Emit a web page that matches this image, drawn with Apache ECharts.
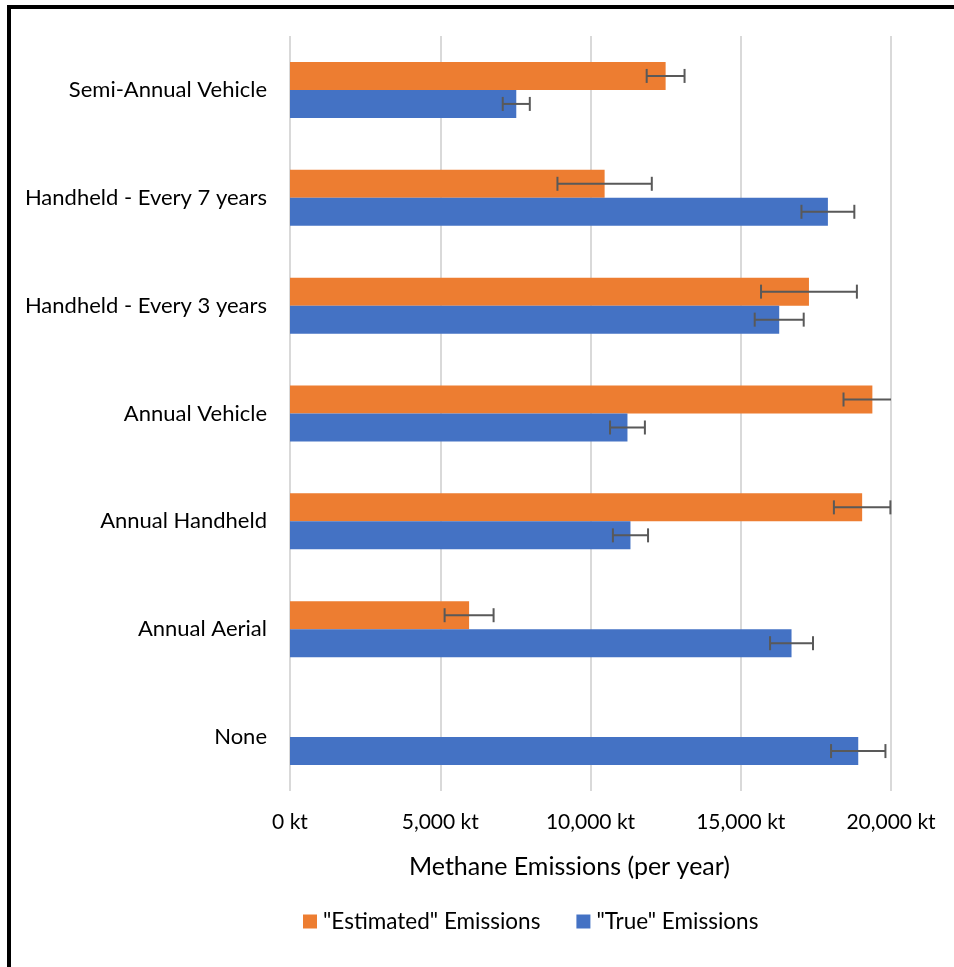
<!DOCTYPE html>
<html>
<head>
<meta charset="utf-8">
<script src="https://cdn.jsdelivr.net/npm/echarts@6/dist/echarts.min.js"></script>
<style>
html,body{margin:0;padding:0;background:#fff;}
#c{width:954px;height:967px;}
</style>
</head>
<body>
<div id="c"></div>
<script>
// Categories listed top to bottom (yAxis is inverted)
var categories = ['Semi-Annual Vehicle', 'Handheld - Every 7 years', 'Handheld - Every 3 years', 'Annual Vehicle', 'Annual Handheld', 'Annual Aerial', 'None'];
var estimated = [12500, 10470, 17270, 19380, 19040, 5960, null];
var estimatedErr = [630, 1570, 1595, 960, 940, 815, null];
var trueVals = [7530, 17900, 16280, 11230, 11330, 16690, 18910];
var trueErr = [450, 880, 815, 580, 585, 715, 905];
var xTicks = [0, 5000, 10000, 15000, 20000];
var seriesNames = ['"Estimated" Emissions', '"True" Emissions'];

var FONT = 'Lato';
var AXMAX = 20000;
var BARW = 28;

function errData(vals, errs) {
  return vals.map(function (v, i) {
    return v == null ? [i, null, null, null] : [i, v, v - errs[i], v + errs[i]];
  });
}

function errRender(offset) {
  return function (params, api) {
    var idx = api.value(0);
    var v = api.value(1);
    if (isNaN(v) || v === null) return null;
    var lo = api.value(2), hi = api.value(3);
    var clipped = hi > AXMAX;
    var hiC = Math.min(hi, AXMAX);
    var pLo = api.coord([lo, idx]);
    var pHi = api.coord([hiC, idx]);
    var y = pLo[1] + offset;
    var cap = 7;
    var st = { stroke: '#595959', lineWidth: 2 };
    var children = [
      { type: 'line', shape: { x1: pLo[0], y1: y, x2: pHi[0], y2: y }, style: st },
      { type: 'line', shape: { x1: pLo[0], y1: y - cap, x2: pLo[0], y2: y + cap }, style: st }
    ];
    if (!clipped) {
      children.push({ type: 'line', shape: { x1: pHi[0], y1: y - cap, x2: pHi[0], y2: y + cap }, style: st });
    }
    return { type: 'group', children: children };
  };
}

var chart = echarts.init(document.getElementById('c'), null, { renderer: 'canvas' });
chart.setOption({
  animation: false,
  backgroundColor: '#fff',
  textStyle: { fontFamily: FONT },
  graphic: [
    { type: 'line', shape: { x1: 7, y1: 7, x2: 954, y2: 7 }, style: { stroke: '#000', lineWidth: 4 } },
    { type: 'line', shape: { x1: 9, y1: 5, x2: 9, y2: 967 }, style: { stroke: '#000', lineWidth: 4 } }
  ],
  grid: { left: 290, right: 63, top: 36, bottom: 176, containLabel: false },
  legend: {
    data: seriesNames,
    bottom: 29,
    left: 298,
    itemWidth: 14,
    itemHeight: 14,
    itemGap: 36,
    icon: 'rect',
    textStyle: { fontFamily: FONT, fontSize: 22.5, color: '#000', padding: [0, 0, 0, 1] }
  },
  xAxis: {
    type: 'value',
    min: 0,
    max: AXMAX,
    interval: 5000,
    name: 'Methane Emissions (per year)',
    nameLocation: 'middle',
    nameGap: 63,
    nameTextStyle: { fontFamily: FONT, fontSize: 25, color: '#000', padding: [0, 42, 0, 0] },
    axisLine: { show: false },
    axisTick: { show: false },
    axisLabel: {
      margin: 21,
      fontFamily: FONT,
      fontSize: 21,
      color: '#000',
      formatter: function (v) { return v.toLocaleString('en-US') + ' kt'; }
    },
    splitLine: { show: true, lineStyle: { color: '#d9d9d9', width: 2 } }
  },
  yAxis: {
    type: 'category',
    data: categories,
    inverse: true,
    axisLine: { show: false },
    axisTick: { show: false },
    axisLabel: { margin: 23, fontFamily: FONT, fontSize: 22, color: '#000' }
  },
  series: [
    {
      name: seriesNames[0], type: 'bar', data: estimated, barWidth: BARW, barGap: '0%',
      itemStyle: { color: '#ED7D31' }
    },
    {
      name: seriesNames[1], type: 'bar', data: trueVals, barWidth: BARW, barGap: '0%',
      itemStyle: { color: '#4472C4' }
    },
    {
      name: 'errEst', type: 'custom', renderItem: errRender(-BARW / 2),
      data: errData(estimated, estimatedErr), encode: { x: 1, y: 0 }, z: 10, silent: true
    },
    {
      name: 'errTrue', type: 'custom', renderItem: errRender(BARW / 2),
      data: errData(trueVals, trueErr), encode: { x: 1, y: 0 }, z: 10, silent: true
    }
  ]
});
</script>
</body>
</html>
